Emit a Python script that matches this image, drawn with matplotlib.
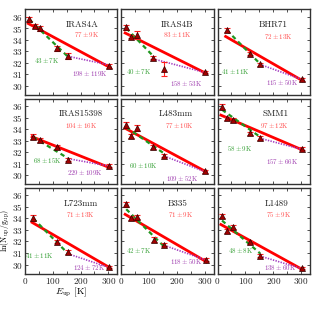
import numpy as np
import matplotlib
matplotlib.use("Agg")
import matplotlib.pyplot as plt
from matplotlib.ticker import MultipleLocator

plt.rcParams["font.family"] = "serif"
plt.rcParams["font.serif"] = ["cmr10"]
plt.rcParams["mathtext.fontset"] = "cm"
plt.rcParams["axes.formatter.use_mathtext"] = True

# sources, in reading order
names = ["IRAS4A", "IRAS4B", "BHR71", "IRAS15398", "L483mm", "SMM1",
         "L723mm", "B335", "L1489"]

# upper level energies [K], ln(N/g) values and errors
e_up = [[16, 36, 54, 117, 156, 303],
        [18, 36, 57, 115, 153, 302],
        [33, 115, 153, 302],
        [30, 54, 114, 156, 301],
        [18, 36, 57, 115, 155, 302],
        [16, 34, 54, 115, 153, 302],
        [30, 117, 156, 301],
        [18, 36, 55, 117, 155, 303],
        [16, 34, 54, 115, 153, 302]]
ln_n = [[35.78, 35.20, 34.97, 33.26, 32.57, 31.72],
        [35.06, 34.26, 34.43, 32.43, 31.43, 31.20],
        [34.83, 32.78, 31.86, 30.55],
        [33.33, 33.04, 32.46, 31.35, 30.83],
        [34.32, 33.38, 34.06, 32.46, 31.70, 30.33],
        [35.95, 34.93, 34.78, 33.62, 33.24, 32.29],
        [34.03, 31.99, 31.07, 29.78],
        [35.22, 34.03, 34.12, 32.16, 31.73, 30.42],
        [34.20, 32.90, 33.24, 31.93, 30.77, 29.70]]
ln_err = [[0.2, 0.2, 0.2, 0.2, 0.25, 0.15],
          [0.2, 0.15, 0.35, 0.15, 0.6, 0.12],
          [0.2, 0.15, 0.15, 0.12],
          [0.2, 0.15, 0.15, 0.15, 0.15],
          [0.25, 0.15, 0.25, 0.15, 0.15, 0.15],
          [0.2, 0.15, 0.2, 0.15, 0.15, 0.12],
          [0.25, 0.15, 0.2, 0.12],
          [0.2, 0.2, 0.2, 0.2, 0.15, 0.12],
          [0.2, 0.15, 0.2, 0.15, 0.15, 0.12]]
# index of the point where the warm (green) fit stops and hot (purple) starts
brk = [4, 3, 2, 3, 4, 4, 2, 4, 4]

# rotation temperatures [K] and errors: all / warm / hot
t_all = [77, 83, 72, 104, 77, 97, 71, 71, 75]
t_all_err = [9, 11, 13, 16, 10, 12, 13, 9, 9]
t_warm = [43, 40, 41, 68, 60, 58, 41, 42, 48]
t_warm_err = [7, 7, 11, 15, 10, 9, 11, 7, 8]
t_hot = [198, 158, 115, 229, 109, 157, 124, 118, 138]
t_hot_err = [119, 53, 50, 109, 52, 66, 72, 50, 60]
# intercepts of the fits (ln N/g at E_up = 0)
b_all = [35.56, 34.75, 34.68, 33.58, 34.25, 35.33, 34.02, 34.55, 33.63]
b_warm = [36.12, 35.45, 35.63, 33.74, 34.45, 35.95, 34.73, 35.23, 34.15]
b_hot = [33.34, 33.06, 33.18, 32.11, 33.07, 34.17, 32.18, 32.97, 31.84]

# label positions (axes fraction)
name_pos = [(0.62, 0.82), (0.60, 0.82), (0.60, 0.82), (0.61, 0.82), (0.59, 0.82),
            (0.63, 0.82), (0.60, 0.82), (0.61, 0.82), (0.64, 0.82)]
all_pos = [(0.67, 0.70), (0.61, 0.70), (0.66, 0.68), (0.61, 0.68), (0.63, 0.69),
           (0.61, 0.68), (0.60, 0.69), (0.64, 0.69), (0.66, 0.69)]
warm_pos = [(0.24, 0.40), (0.19, 0.27), (0.19, 0.27), (0.24, 0.28), (0.24, 0.22),
            (0.24, 0.42), (0.16, 0.21), (0.19, 0.27), (0.25, 0.27)]
hot_pos = [(0.70, 0.25), (0.70, 0.13), (0.70, 0.14), (0.65, 0.14), (0.66, 0.07),
           (0.70, 0.27), (0.70, 0.07), (0.70, 0.14), (0.68, 0.07)]

fig, axes = plt.subplots(3, 3, figsize=(3.15, 3.15), dpi=100, sharex=True, sharey=True)
fig.subplots_adjust(left=0.079, right=0.984, top=0.971, bottom=0.131,
                    wspace=0.043, hspace=0.041)

for i, ax in enumerate(axes.flat):
    e = np.array(e_up[i], dtype=float)
    y = np.array(ln_n[i])
    k = brk[i]

    # fits
    xr = np.array([e[0] - 4, e[-1] + 3])
    ax.plot(xr, b_all[i] - xr / t_all[i], color="#ff0000", lw=2.0, zorder=2)
    xw = np.array([e[0], e[k]])
    ax.plot(xw, b_warm[i] - xw / t_warm[i], color="#1e961e", lw=1.6,
            dashes=(2.0, 1.6), zorder=3)
    xh = np.array([e[k], e[-1]])
    ax.plot(xh, b_hot[i] - xh / t_hot[i], color="#a23cc0", lw=1.2,
            linestyle=(0, (0.8, 0.8)), zorder=3)

    ax.errorbar(e, y, yerr=ln_err[i], fmt="none", ecolor="#ff2020",
                elinewidth=0.8, capsize=2, capthick=0.8, zorder=4)
    ax.plot(e, y, "^", ms=3.8, mfc="#a00000", mec="#300000", mew=0.5, zorder=5)

    ax.text(*name_pos[i], names[i], transform=ax.transAxes, ha="center",
            va="center", fontsize=6.5, color="#202020")
    ax.text(*all_pos[i], r"$%d\pm%d$K" % (t_all[i], t_all_err[i]),
            transform=ax.transAxes, ha="center", va="center", fontsize=5,
            color="#ff5050")
    ax.text(*warm_pos[i], r"$%d\pm%d$K" % (t_warm[i], t_warm_err[i]),
            transform=ax.transAxes, ha="center", va="center", fontsize=5,
            color="#36a036")
    ax.text(*hot_pos[i], r"$%d\pm%d$K" % (t_hot[i], t_hot_err[i]),
            transform=ax.transAxes, ha="center", va="center", fontsize=5,
            color="#a040b0")

    ax.set_xlim(0, 332)
    ax.set_ylim(29.2, 36.65)
    ax.xaxis.set_major_locator(MultipleLocator(100))
    ax.xaxis.set_minor_locator(MultipleLocator(50))
    ax.yaxis.set_major_locator(MultipleLocator(1))
    ax.tick_params(which="both", direction="in", top=True, right=True,
                   length=2, width=0.6, labelsize=6.6, pad=1.5, colors="#333333",
                   labelcolor="#222222")
    for s in ax.spines.values():
        s.set_color("#333333")
        s.set_linewidth(1.0)

axes[2, 0].set_xlabel(r"$E_{\rm up}$ [K]", fontsize=7, labelpad=0)
axes[2, 0].set_ylabel(r"$\ln(\rm N_{up}/g_{up})$", fontsize=5.9)
axes[2, 0].yaxis.set_label_coords(-0.135, 0.5)

plt.savefig("out.png", dpi=100)
